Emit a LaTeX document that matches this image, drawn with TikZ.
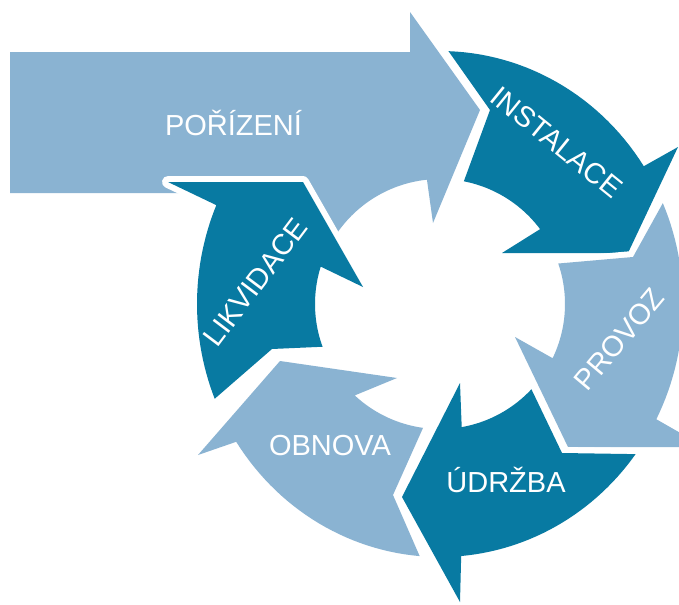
\documentclass[tikz,border=0pt]{standalone}
\usepackage{fontspec}
\setmainfont{Liberation Sans}
\definecolor{cycdark}{RGB}{8,122,162}
\definecolor{cyclight}{RGB}{138,179,210}
\begin{document}
\begin{tikzpicture}[x=0.75pt, y=-0.75pt,
  declare function={
    ox(\t)=440+243*cos(\t); oy(\t)=304-253*sin(\t);
    ix(\t)=440+125*cos(\t); iy(\t)=304-125*sin(\t);},
  stage/.style={preaction={draw=white, line width=9pt, line join=round}},
  arcpts/.style={samples=30, variable=\t},
  lbl/.style={text=white, font=\fontsize{21.75}{26}\selectfont,
    inner sep=0pt, text height=15.6pt, text depth=0pt}]
\useasboundingbox (0,0) rectangle (679,604);
\clip (0,0) rectangle (679,604);

% acquisition: straight arrow entering the cycle
\fill[cyclight, stage] (10,52) -- (410,52) -- (410,12) -- (480,110) -- (433,223)
  -- plot[arcpts, domain=96:150] ({ix(\t)},{iy(\t)})
  -- (300,193) -- (10,193) -- cycle;

% installation
\fill[cycdark, stage] plot[arcpts, domain=88:33] ({ox(\t)},{oy(\t)})
  -- (678,147) -- (628,253) -- (502,253)
  -- plot[arcpts, domain=36.8:79] ({ix(\t)},{iy(\t)})
  -- (490,110) -- cycle;

% operation
\fill[cyclight, stage] plot[arcpts, domain=-27.1:23.5] ({ox(\t)},{oy(\t)})
  -- (633,257)
  -- plot[arcpts, domain=18.9:-25.7] ({ix(\t)},{iy(\t)})
  -- (515,337) -- (568,447) -- (705,447) -- cycle;

% maintenance
\fill[cycdark, stage] plot[arcpts, domain=-85:-36.4] ({ox(\t)},{oy(\t)})
  -- (562,453)
  -- plot[arcpts, domain=-43:-80] ({ix(\t)},{iy(\t)})
  -- (460,383) -- (402,497) -- (460,602) -- cycle;

% renewal
\fill[cyclight, stage] plot[arcpts, domain=-147:-94.8] ({ox(\t)},{oy(\t)})
  -- (393,495)
  -- plot[arcpts, domain=-97.8:-133] ({ix(\t)},{iy(\t)})
  -- (397,378) -- (280,361) -- (198,455) -- cycle;

% disposal
\fill[cycdark, stage] plot[arcpts, domain=157:202] ({ox(\t)},{oy(\t)})
  -- (272,349)
  -- plot[arcpts, domain=200:162.6] ({ix(\t)},{iy(\t)})
  -- (363,287) -- (303,182) -- (168,182) -- cycle;

% labels
\node[lbl] (porizeni) at (233.5,125) {POŘÍZENÍ};
\node[lbl, rotate=-39] (instalace) at (557,142) {INSTALACE};
\node[lbl, rotate=50] (provoz) at (619,339) {PROVOZ};
\node[lbl] (udrzba) at (506,482) {ÚDRŽBA};
\node[lbl] (obnova) at (330,445) {OBNOVA};
\node[lbl, rotate=53] (likvidace) at (255,282) {LIKVIDACE};
\end{tikzpicture}
\end{document}
